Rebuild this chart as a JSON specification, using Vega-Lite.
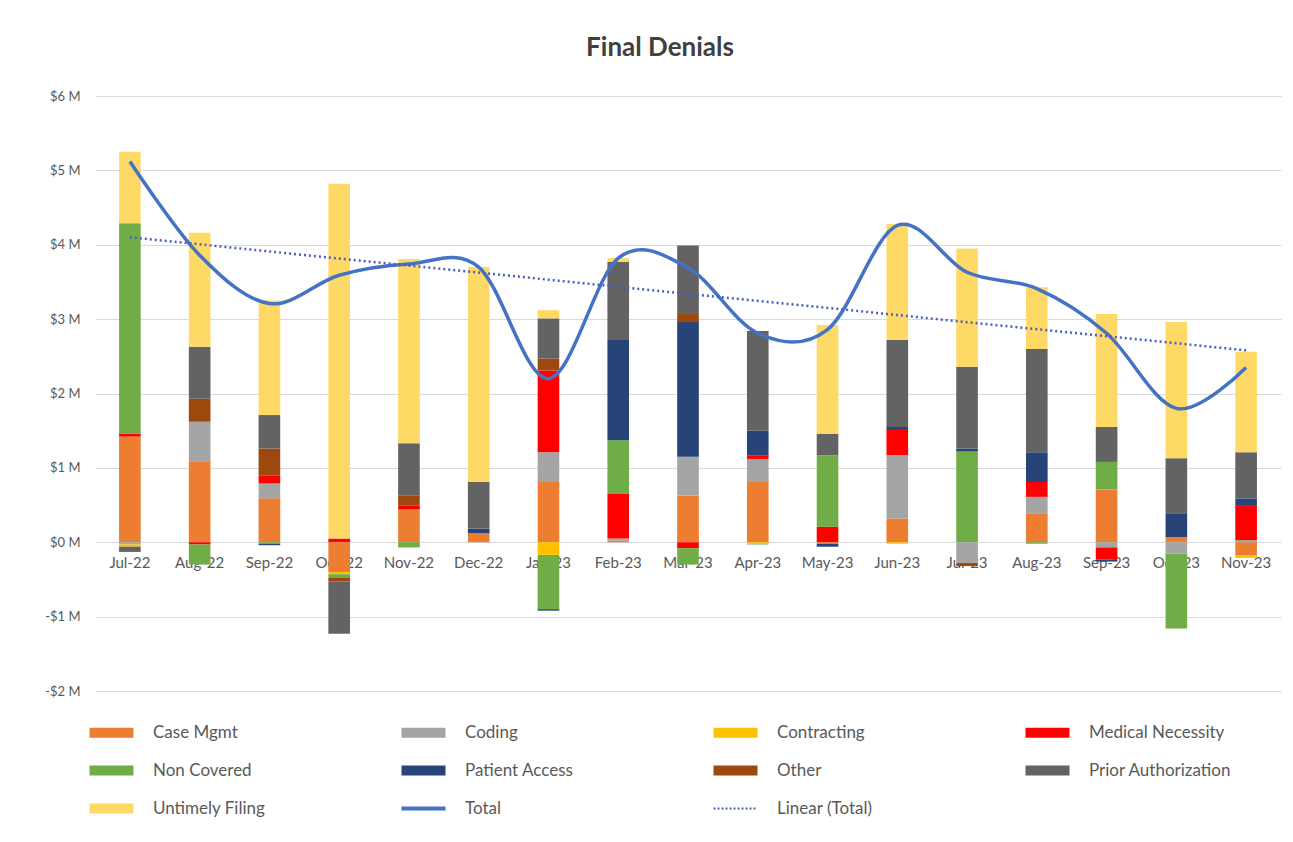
{
  "$schema": "https://vega.github.io/schema/vega-lite/v6.json",
  "width": 1186,
  "height": 595,
  "padding": {"left": 44, "top": 35, "right": 10, "bottom": 6},
  "background": "white",
  "title": {"text": "Final Denials", "fontSize": 26, "font": "Lato", "fontWeight": "bold", "color": "#404040", "offset": 29, "dx": -28},
  "config": {"font": "Lato", "view": {"stroke": null}},
  "datasets": {
    "bars": [
      {"m": "Jul-22", "c": "Case Mgmt", "v": 1.42, "o": 1},
      {"m": "Jul-22", "c": "Medical Necessity", "v": 0.04, "o": 4},
      {"m": "Jul-22", "c": "Non Covered", "v": 2.83, "o": 5},
      {"m": "Jul-22", "c": "Untimely Filing", "v": 0.96, "o": 9},
      {"m": "Jul-22", "c": "Coding", "v": -0.03, "o": 2},
      {"m": "Jul-22", "c": "Contracting", "v": -0.03, "o": 3},
      {"m": "Jul-22", "c": "Prior Authorization", "v": -0.07, "o": 8},
      {"m": "Aug-22", "c": "Case Mgmt", "v": 1.08, "o": 1},
      {"m": "Aug-22", "c": "Coding", "v": 0.54, "o": 2},
      {"m": "Aug-22", "c": "Other", "v": 0.31, "o": 7},
      {"m": "Aug-22", "c": "Prior Authorization", "v": 0.70, "o": 8},
      {"m": "Aug-22", "c": "Untimely Filing", "v": 1.53, "o": 9},
      {"m": "Aug-22", "c": "Medical Necessity", "v": -0.03, "o": 4},
      {"m": "Aug-22", "c": "Non Covered", "v": -0.27, "o": 5},
      {"m": "Sep-22", "c": "Case Mgmt", "v": 0.59, "o": 1},
      {"m": "Sep-22", "c": "Coding", "v": 0.20, "o": 2},
      {"m": "Sep-22", "c": "Medical Necessity", "v": 0.11, "o": 4},
      {"m": "Sep-22", "c": "Other", "v": 0.36, "o": 7},
      {"m": "Sep-22", "c": "Prior Authorization", "v": 0.45, "o": 8},
      {"m": "Sep-22", "c": "Untimely Filing", "v": 1.54, "o": 9},
      {"m": "Sep-22", "c": "Non Covered", "v": -0.02, "o": 5},
      {"m": "Sep-22", "c": "Patient Access", "v": -0.02, "o": 6},
      {"m": "Oct-22", "c": "Medical Necessity", "v": 0.05, "o": 4},
      {"m": "Oct-22", "c": "Untimely Filing", "v": 4.77, "o": 9},
      {"m": "Oct-22", "c": "Case Mgmt", "v": -0.40, "o": 1},
      {"m": "Oct-22", "c": "Contracting", "v": -0.03, "o": 3},
      {"m": "Oct-22", "c": "Non Covered", "v": -0.05, "o": 5},
      {"m": "Oct-22", "c": "Other", "v": -0.05, "o": 7},
      {"m": "Oct-22", "c": "Prior Authorization", "v": -0.70, "o": 8},
      {"m": "Nov-22", "c": "Case Mgmt", "v": 0.44, "o": 1},
      {"m": "Nov-22", "c": "Medical Necessity", "v": 0.05, "o": 4},
      {"m": "Nov-22", "c": "Other", "v": 0.14, "o": 7},
      {"m": "Nov-22", "c": "Prior Authorization", "v": 0.70, "o": 8},
      {"m": "Nov-22", "c": "Untimely Filing", "v": 2.48, "o": 9},
      {"m": "Nov-22", "c": "Non Covered", "v": -0.07, "o": 5},
      {"m": "Dec-22", "c": "Case Mgmt", "v": 0.12, "o": 1},
      {"m": "Dec-22", "c": "Patient Access", "v": 0.06, "o": 6},
      {"m": "Dec-22", "c": "Prior Authorization", "v": 0.63, "o": 8},
      {"m": "Dec-22", "c": "Untimely Filing", "v": 2.89, "o": 9},
      {"m": "Jan-23", "c": "Case Mgmt", "v": 0.81, "o": 1},
      {"m": "Jan-23", "c": "Coding", "v": 0.40, "o": 2},
      {"m": "Jan-23", "c": "Medical Necessity", "v": 1.10, "o": 4},
      {"m": "Jan-23", "c": "Other", "v": 0.16, "o": 7},
      {"m": "Jan-23", "c": "Prior Authorization", "v": 0.54, "o": 8},
      {"m": "Jan-23", "c": "Untimely Filing", "v": 0.11, "o": 9},
      {"m": "Jan-23", "c": "Contracting", "v": -0.17, "o": 3},
      {"m": "Jan-23", "c": "Non Covered", "v": -0.73, "o": 5},
      {"m": "Jan-23", "c": "Patient Access", "v": -0.02, "o": 6},
      {"m": "Feb-23", "c": "Case Mgmt", "v": 0.02, "o": 1},
      {"m": "Feb-23", "c": "Coding", "v": 0.03, "o": 2},
      {"m": "Feb-23", "c": "Medical Necessity", "v": 0.60, "o": 4},
      {"m": "Feb-23", "c": "Non Covered", "v": 0.72, "o": 5},
      {"m": "Feb-23", "c": "Patient Access", "v": 1.35, "o": 6},
      {"m": "Feb-23", "c": "Prior Authorization", "v": 1.05, "o": 8},
      {"m": "Feb-23", "c": "Untimely Filing", "v": 0.05, "o": 9},
      {"m": "Mar-23", "c": "Case Mgmt", "v": 0.63, "o": 1},
      {"m": "Mar-23", "c": "Coding", "v": 0.52, "o": 2},
      {"m": "Mar-23", "c": "Patient Access", "v": 1.81, "o": 6},
      {"m": "Mar-23", "c": "Other", "v": 0.11, "o": 7},
      {"m": "Mar-23", "c": "Prior Authorization", "v": 0.92, "o": 8},
      {"m": "Mar-23", "c": "Medical Necessity", "v": -0.08, "o": 4},
      {"m": "Mar-23", "c": "Non Covered", "v": -0.22, "o": 5},
      {"m": "Apr-23", "c": "Case Mgmt", "v": 0.81, "o": 1},
      {"m": "Apr-23", "c": "Coding", "v": 0.31, "o": 2},
      {"m": "Apr-23", "c": "Medical Necessity", "v": 0.05, "o": 4},
      {"m": "Apr-23", "c": "Patient Access", "v": 0.33, "o": 6},
      {"m": "Apr-23", "c": "Prior Authorization", "v": 1.34, "o": 8},
      {"m": "Apr-23", "c": "Contracting", "v": -0.02, "o": 3},
      {"m": "Apr-23", "c": "Non Covered", "v": -0.01, "o": 5},
      {"m": "May-23", "c": "Medical Necessity", "v": 0.21, "o": 4},
      {"m": "May-23", "c": "Non Covered", "v": 0.96, "o": 5},
      {"m": "May-23", "c": "Prior Authorization", "v": 0.29, "o": 8},
      {"m": "May-23", "c": "Untimely Filing", "v": 1.46, "o": 9},
      {"m": "May-23", "c": "Case Mgmt", "v": -0.02, "o": 1},
      {"m": "May-23", "c": "Patient Access", "v": -0.04, "o": 6},
      {"m": "Jun-23", "c": "Case Mgmt", "v": 0.32, "o": 1},
      {"m": "Jun-23", "c": "Coding", "v": 0.85, "o": 2},
      {"m": "Jun-23", "c": "Medical Necessity", "v": 0.34, "o": 4},
      {"m": "Jun-23", "c": "Patient Access", "v": 0.04, "o": 6},
      {"m": "Jun-23", "c": "Prior Authorization", "v": 1.17, "o": 8},
      {"m": "Jun-23", "c": "Untimely Filing", "v": 1.56, "o": 9},
      {"m": "Jun-23", "c": "Contracting", "v": -0.02, "o": 3},
      {"m": "Jul-23", "c": "Non Covered", "v": 1.22, "o": 5},
      {"m": "Jul-23", "c": "Patient Access", "v": 0.04, "o": 6},
      {"m": "Jul-23", "c": "Prior Authorization", "v": 1.10, "o": 8},
      {"m": "Jul-23", "c": "Untimely Filing", "v": 1.59, "o": 9},
      {"m": "Jul-23", "c": "Coding", "v": -0.28, "o": 2},
      {"m": "Jul-23", "c": "Other", "v": -0.04, "o": 7},
      {"m": "Aug-23", "c": "Case Mgmt", "v": 0.39, "o": 1},
      {"m": "Aug-23", "c": "Coding", "v": 0.22, "o": 2},
      {"m": "Aug-23", "c": "Medical Necessity", "v": 0.20, "o": 4},
      {"m": "Aug-23", "c": "Patient Access", "v": 0.40, "o": 6},
      {"m": "Aug-23", "c": "Prior Authorization", "v": 1.39, "o": 8},
      {"m": "Aug-23", "c": "Untimely Filing", "v": 0.83, "o": 9},
      {"m": "Aug-23", "c": "Non Covered", "v": -0.02, "o": 5},
      {"m": "Sep-23", "c": "Case Mgmt", "v": 0.71, "o": 1},
      {"m": "Sep-23", "c": "Non Covered", "v": 0.37, "o": 5},
      {"m": "Sep-23", "c": "Prior Authorization", "v": 0.47, "o": 8},
      {"m": "Sep-23", "c": "Untimely Filing", "v": 1.52, "o": 9},
      {"m": "Sep-23", "c": "Coding", "v": -0.07, "o": 2},
      {"m": "Sep-23", "c": "Medical Necessity", "v": -0.16, "o": 4},
      {"m": "Sep-23", "c": "Patient Access", "v": -0.03, "o": 6},
      {"m": "Oct-23", "c": "Case Mgmt", "v": 0.07, "o": 1},
      {"m": "Oct-23", "c": "Patient Access", "v": 0.32, "o": 6},
      {"m": "Oct-23", "c": "Prior Authorization", "v": 0.74, "o": 8},
      {"m": "Oct-23", "c": "Untimely Filing", "v": 1.83, "o": 9},
      {"m": "Oct-23", "c": "Coding", "v": -0.15, "o": 2},
      {"m": "Oct-23", "c": "Non Covered", "v": -1.01, "o": 5},
      {"m": "Nov-23", "c": "Coding", "v": 0.03, "o": 2},
      {"m": "Nov-23", "c": "Medical Necessity", "v": 0.47, "o": 4},
      {"m": "Nov-23", "c": "Patient Access", "v": 0.09, "o": 6},
      {"m": "Nov-23", "c": "Prior Authorization", "v": 0.62, "o": 8},
      {"m": "Nov-23", "c": "Untimely Filing", "v": 1.35, "o": 9},
      {"m": "Nov-23", "c": "Case Mgmt", "v": -0.18, "o": 1},
      {"m": "Nov-23", "c": "Contracting", "v": -0.03, "o": 3}
    ],
    "totals": [
      {"m": "Jul-22", "t": 5.12},
      {"m": "Aug-22", "t": 3.86},
      {"m": "Sep-22", "t": 3.21},
      {"m": "Oct-22", "t": 3.59},
      {"m": "Nov-22", "t": 3.74},
      {"m": "Dec-22", "t": 3.70},
      {"m": "Jan-23", "t": 2.20},
      {"m": "Feb-23", "t": 3.82},
      {"m": "Mar-23", "t": 3.69},
      {"m": "Apr-23", "t": 2.81},
      {"m": "May-23", "t": 2.86},
      {"m": "Jun-23", "t": 4.26},
      {"m": "Jul-23", "t": 3.63},
      {"m": "Aug-23", "t": 3.41},
      {"m": "Sep-23", "t": 2.81},
      {"m": "Oct-23", "t": 1.80},
      {"m": "Nov-23", "t": 2.35}
    ],
    "trend": [
      {"m": "Jul-22", "t": 4.10},
      {"m": "Nov-23", "t": 2.58}
    ]
  },
  "layer": [
    {
      "data": {"name": "bars"},
      "mark": {"type": "bar"},
      "encoding": {
        "x": {
          "field": "m", "type": "nominal",
          "sort": ["Jul-22","Aug-22","Sep-22","Oct-22","Nov-22","Dec-22","Jan-23","Feb-23","Mar-23","Apr-23","May-23","Jun-23","Jul-23","Aug-23","Sep-23","Oct-23","Nov-23"],
          "scale": {"paddingInner": 0.69, "paddingOuter": 0.345},
          "axis": {"title": null, "domain": false, "ticks": false, "labelAngle": 0, "labelFontSize": 15, "labelColor": "#595959", "offset": -149, "labelPadding": 13}
        },
        "y": {
          "field": "v", "type": "quantitative", "stack": "zero",
          "scale": {"domain": [-2, 6], "nice": false},
          "axis": {"title": null, "domain": false, "ticks": false, "values": [-2,-1,0,1,2,3,4,5,6],
                   "labelExpr": "datum.value < 0 ? '-$' + abs(datum.value) + ' M' : '$' + datum.value + ' M'",
                   "labelFontSize": 13, "labelColor": "#595959", "labelPadding": 15, "gridColor": "#D9D9D9"}
        },
        "color": {
          "field": "c", "type": "nominal",
          "scale": {
            "domain": ["Case Mgmt","Coding","Contracting","Medical Necessity","Non Covered","Patient Access","Other","Prior Authorization","Untimely Filing","Total","Linear (Total)"],
            "range": ["#ED7D31","#A5A5A5","#FFC000","#FF0000","#70AD47","#264478","#9E480E","#636363","#FFD966","#4472C4","#4A5FC1"]
          },
          "legend": {
            "title": null, "orient": "bottom", "direction": "horizontal", "columns": 4, "gridAlign": "all",
            "labelFontSize": 17, "labelColor": "#595959", "symbolSize": 484, "labelOffset": 33,
            "columnPadding": 97, "rowPadding": 20, "offset": 25, "padding": 8,
            "encode": {
              "symbols": {
                "update": {
                  "shape": {"signal": "datum.value === 'Total' || datum.value === 'Linear (Total)' ? 'M-2,0H2' : 'M-2,-0.45H2V0.45H-2Z'"},
                  "stroke": {"signal": "datum.value === 'Total' ? '#4472C4' : datum.value === 'Linear (Total)' ? '#4A5FC1' : 'transparent'"},
                  "strokeWidth": {"signal": "datum.value === 'Total' ? 4 : datum.value === 'Linear (Total)' ? 2 : 0"},
                  "strokeDash": {"signal": "datum.value === 'Linear (Total)' ? [2, 2] : [1, 0]"}
                }
              }
            }
          }
        },
        "order": {"field": "o", "type": "quantitative"}
      }
    },
    {
      "data": {"name": "totals"},
      "mark": {"type": "line", "interpolate": "cardinal", "tension": 0, "strokeWidth": 3.5, "color": "#4472C4"},
      "encoding": {
        "x": {"field": "m", "type": "nominal", "sort": ["Jul-22","Aug-22","Sep-22","Oct-22","Nov-22","Dec-22","Jan-23","Feb-23","Mar-23","Apr-23","May-23","Jun-23","Jul-23","Aug-23","Sep-23","Oct-23","Nov-23"]},
        "y": {"field": "t", "type": "quantitative"}
      }
    },
    {
      "data": {"name": "trend"},
      "mark": {"type": "line", "strokeDash": [2, 3], "strokeWidth": 2.5, "color": "#4A5FC1"},
      "encoding": {
        "x": {"field": "m", "type": "nominal", "sort": ["Jul-22","Aug-22","Sep-22","Oct-22","Nov-22","Dec-22","Jan-23","Feb-23","Mar-23","Apr-23","May-23","Jun-23","Jul-23","Aug-23","Sep-23","Oct-23","Nov-23"]},
        "y": {"field": "t", "type": "quantitative"}
      }
    }
  ]
}
